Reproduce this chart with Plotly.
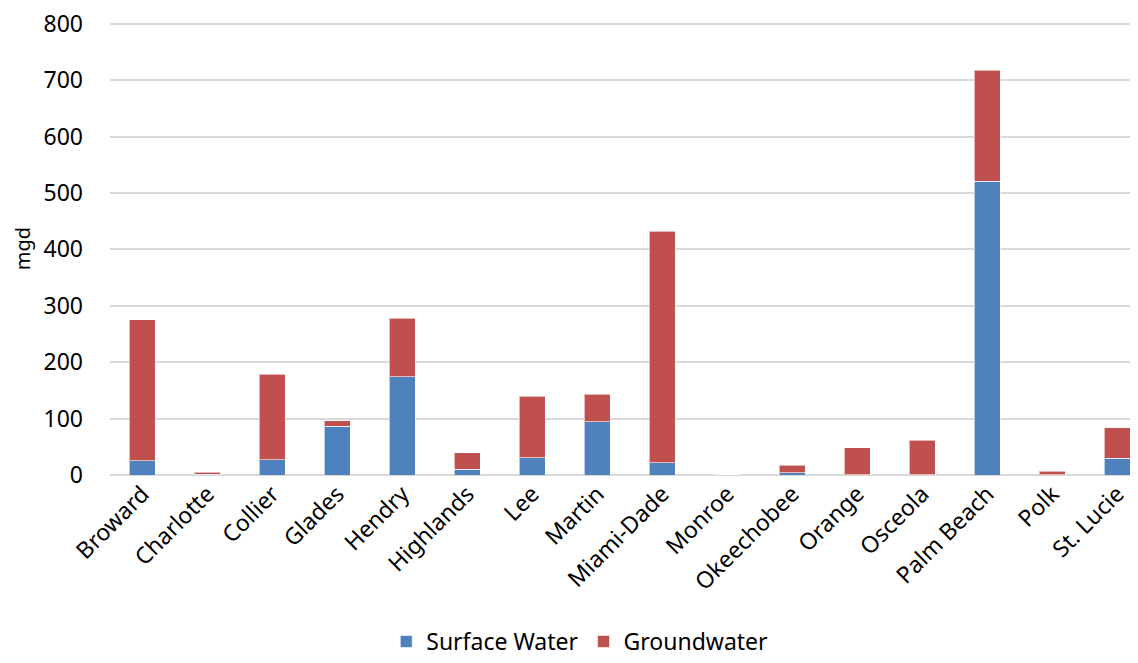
import plotly.graph_objects as go

counties = ["Broward", "Charlotte", "Collier", "Glades", "Hendry", "Highlands", "Lee", "Martin",
            "Miami-Dade", "Monroe", "Okeechobee", "Orange", "Osceola", "Palm Beach", "Polk", "St. Lucie"]
surface_water = [25.5, 1.5, 27, 86.5, 174.6, 10, 31, 94, 22, 0.2, 4, 0.5, 0.5, 520.7, 0.5, 30]
groundwater = [249.5, 3.5, 152, 9.5, 102.9, 29.8, 109, 49, 410, 0.3, 13, 47.5, 61.1, 196.9, 6.5, 54]
y_ticks = [0, 100, 200, 300, 400, 500, 600, 700, 800]

FONT = "Noto Sans"
fig = go.Figure()
fig.add_trace(go.Bar(x=counties, y=surface_water, name="Surface Water",
                     marker=dict(color="#4F81BD", line=dict(color="rgba(255,255,255,0.6)", width=1))))
fig.add_trace(go.Bar(x=counties, y=groundwater, name="Groundwater",
                     marker=dict(color="#C0504D", line=dict(color="rgba(255,255,255,0.6)", width=1))))

# the page body adds an 8px offset, so the figure is 8px smaller on each axis
fig.update_layout(
    barmode="stack",
    bargap=0.6,
    width=1130, height=655,
    margin=dict(l=101.5, r=0, t=14.3, b=188.3, autoexpand=False),
    plot_bgcolor="white", paper_bgcolor="white",
    font=dict(family=FONT, size=23, color="#000000"),
    showlegend=True,
    legend=dict(orientation="h", xref="container", yref="container", x=0.506, xanchor="center",
                y=-0.012, yanchor="bottom", font=dict(size=23), traceorder="normal", itemwidth=30),
    xaxis=dict(range=[-0.5, 15.32], tickangle=-45, showgrid=False, showline=False,
               ticks="", tickfont=dict(size=23), automargin=False, ticklabeloverflow="allow"),
    yaxis=dict(range=[0, 803], tickvals=y_ticks,
               showgrid=True, gridcolor="#D9D9D9", gridwidth=1.5,
               zeroline=True, zerolinecolor="#D9D9D9", zerolinewidth=1.5, showline=False,
               ticks="", tickfont=dict(size=23), ticklabelstandoff=26, automargin=False,
               ticklabeloverflow="allow",
               title=dict(text="mgd", font=dict(size=20), standoff=7)),
)
fig.write_html("out.html")
